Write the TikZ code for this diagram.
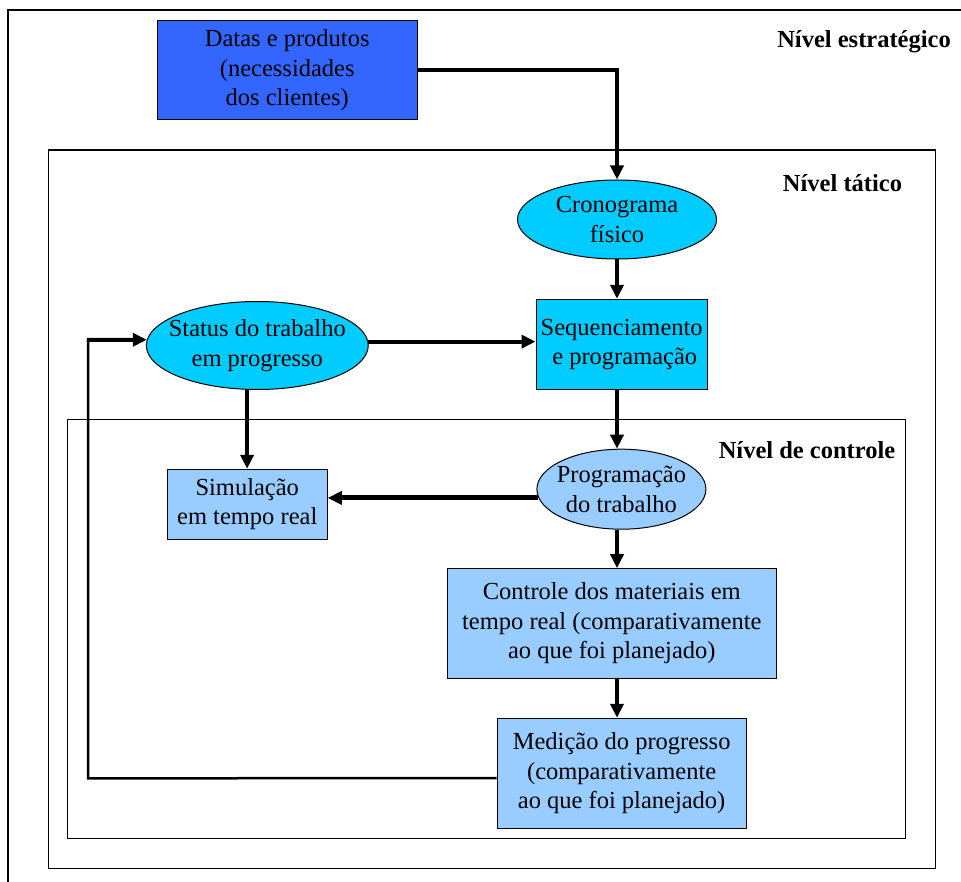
\documentclass[tikz,border=0pt]{standalone}
\usepackage{fontspec}
\setmainfont{Liberation Serif}
\usetikzlibrary{arrows.meta,shapes.geometric}
\definecolor{royal}{HTML}{3366FF}
\definecolor{cyanb}{HTML}{00CCFF}
\definecolor{lightb}{HTML}{99CCFF}
\tikzset{
  txt/.style={font=\fontsize{24.5}{29.5}\selectfont, align=center, inner sep=0pt},
  boxn/.style={txt, draw=black, line width=1pt, rectangle},
  elln/.style={txt, draw=black, line width=1pt, ellipse},
  frame/.style={draw=black, line width=1.2pt},
  lvl/.style={font=\fontsize{24.5}{29.5}\selectfont\bfseries, inner sep=0pt},
  arr/.style={line width=4pt, -{Triangle[length=14pt,width=13pt]}},
  thickarr/.style={line width=5pt, -{Triangle[length=14pt,width=13pt]}},
  fb/.style={line width=2.5pt}
}
\begin{document}
\begin{tikzpicture}[x=1pt,y=-1pt]
\useasboundingbox[fill=white] (0,0) rectangle (961,882);
% frames
\draw[frame] (8,882) -- (8,10) -- (961,10);
\draw[frame] (48.4,150) rectangle (935.6,868.3);
\draw[frame] (67.4,419.3) rectangle (905.6,838.3);
% level labels
\node[lvl] (lstrat) at (864,42) {Nível estratégico};
\node[lvl] (ltat) at (842.5,183) {Nível tático};
\node[lvl] (lctrl) at (807,450) {Nível de controle};
% nodes
\node[boxn, fill=royal, minimum width=259.5pt, minimum height=99pt] (data) at (287.25,70.5)
  {Datas e produtos\\(necessidades\\dos clientes)};
\node[elln, fill=cyanb, minimum width=199pt, minimum height=79pt] (crono) at (617,219.5)
  {Cronograma\\físico};
\node[boxn, fill=cyanb, minimum width=171.4pt, minimum height=90pt] (seq) at (621.7,344.3)
  {Sequenciamento\\\ e programação};
\node[elln, fill=cyanb, inner xsep=-10pt, minimum width=221pt, minimum height=88pt] (status) at (257.3,345.5)
  {Status do trabalho\\em progresso};
\node[boxn, fill=lightb, minimum width=160pt, minimum height=69.7pt] (sim) at (247.25,504.15)
  {Simulação\\em tempo real};
\node[elln, fill=lightb, inner xsep=-7pt, minimum width=169pt, minimum height=80pt] (prog) at (621.4,489.2)
  {Programação\\do trabalho};
\node[boxn, fill=lightb, minimum width=329pt, minimum height=109.6pt] (ctrl) at (611.8,623.5)
  {Controle dos materiais em\\tempo real (comparativamente\\ao que foi planejado)};
\node[boxn, fill=lightb, minimum width=249.3pt, minimum height=109.7pt] (med) at (621.65,773.15)
  {Medição do progresso\\(comparativamente\\ao que foi planejado)};
% connectors
\draw[arr] (data.east) -| (crono.north);
\draw[arr] (crono.south) -- (crono.south |- seq.north);
\draw[arr] (crono.south |- seq.south) -- (crono.south |- prog.north);
\draw[arr] (crono.south |- prog.south) -- (crono.south |- ctrl.north);
\draw[arr] (crono.south |- ctrl.south) -- (crono.south |- med.north);
\draw[arr] (status.2.87) -- (status.2.87 -| seq.west);
\draw[arr] (status.257.5) -- (status.257.5 |- sim.north);
\draw[thickarr] (prog.186.97) -- (prog.186.97 -| sim.east);
\coordinate (fbstart) at ([yshift=-5pt]med.west);
\coordinate (fbcorner) at (88.2,778.3);
\coordinate (fbtop) at (88.2,340);
\draw[fb] (fbstart) -- (fbcorner) -- (fbtop);
\draw[arr] ([xshift=-1.25pt]fbtop) -- (status.177.13);
\end{tikzpicture}
\end{document}
